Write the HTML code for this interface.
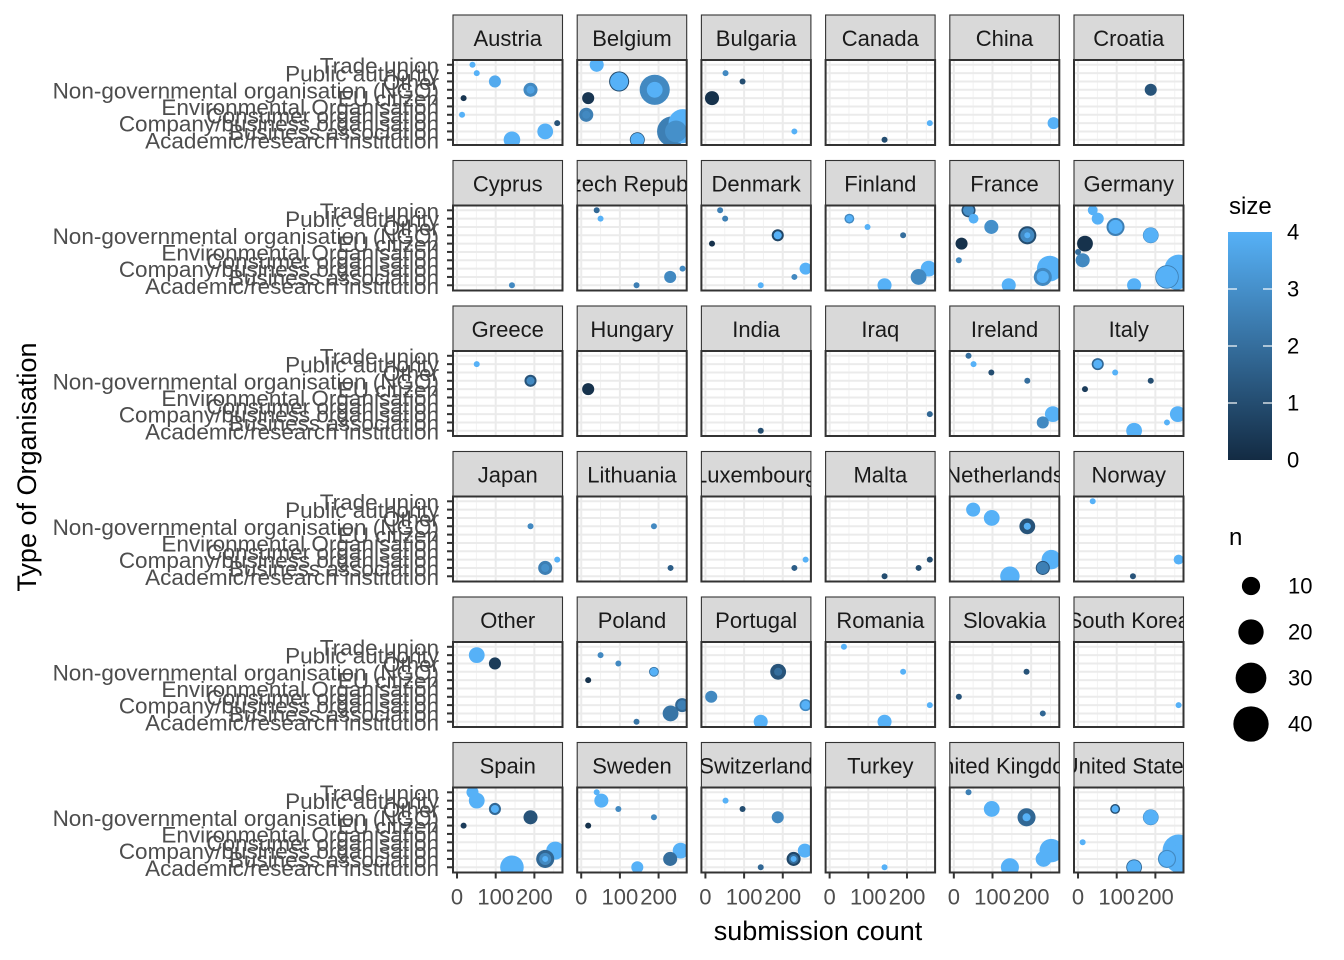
<!DOCTYPE html>
<html><head><meta charset="utf-8">
<style>
html,body{margin:0;padding:0;background:#fff;}
svg{display:block;font-family:"Liberation Sans",Arial,sans-serif;}
</style></head>
<body>
<svg id="chart" width="1344" height="960" viewBox="0 0 1344 960"></svg>
<script>
const categories = ["Trade union","Public authority","Other","Non-governmental organisation (NGO)","EU citizen","Environmental Organisation","Consumer organisation","Company/business organisation","Business association","Academic/research institution"];
const countries = ["Austria","Belgium","Bulgaria","Canada","China","Croatia","Cyprus","Czech Republic","Denmark","Finland","France","Germany","Greece","Hungary","India","Iraq","Ireland","Italy","Japan","Lithuania","Luxembourg","Malta","Netherlands","Norway","Other","Poland","Portugal","Romania","Slovakia","South Korea","Spain","Sweden","Switzerland","Turkey","United Kingdom","United States"];
const xTicks = [0,100,200];
const xTickLabels = ["0","100","200"];
const colorTicks = [0,1,2,3,4];
const sizeLegend = [10,20,30,40];
// each point: [submission count, category index, n, size(colour)]
const points = [
[[40,0,1,4],[51,1,1,4],[98,2,5,3.8],[190,3,7,2.8],[190,3,2,3.5],[17,4,1,0.3],[13,6,1,4],[259,7,1,1.2],[228,8,9,4],[142,9,10,4]],
[[40,0,7,4],[98,2,15,1],[98,2,12,4],[190,3,35,2.8],[190,3,9,4],[18,4,5,0.3],[13,6,7,2.5],[13,6,2,2.8],[145,9,8,1],[145,9,6.5,4],[235,8,35,2.5],[245,8,18,3],[262,7,30,4],[262,8,21,4]],
[[52,1,1,2.8],[96,2,1,1],[17,4,7,0.2],[230,8,1,4]],
[[259,7,1,4],[142,9,1,1]],
[[258,7,5,4]],
[[188,3,5,1.2]],
[[142,9,1,2.8]],
[[40,0,1,1.8],[50,1,1,4],[143,9,1,2.5],[230,8,5,2.8],[262,7,1,2.8]],
[[38,0,1,2.5],[51,1,1,2.5],[187,3,5,0.8],[187,3,2,4],[17,4,1,0.2],[259,7,5,4],[230,8,1,2.8],[143,9,1,4]],
[[51,1,3.2,2.8],[51,1,1.5,4],[98,2,1,4],[190,3,1,2],[256,7,9,4],[230,8,9,2.8],[142,9,7,4]],
[[38,0,7,1.2],[38,0,4,3],[51,1,3.2,4],[97,2,7,3],[190,3,12,1],[190,3,7,2.8],[190,3,1,4],[20,4,5,0.2],[13,6,1,2.8],[248,7,25,4],[230,8,12,2.8],[230,8,5,4],[142,9,7,4]],
[[38,0,3.2,4],[51,1,5,4],[97,2,12,2.5],[97,2,7,4],[188,3,9,2.5],[188,3,8,4],[18,4,9,0.2],[0,5,1,2],[12,6,7,2.8],[145,9,7,4],[230,8,21,2.5],[230,8,18,4],[255,8,25,4],[260,7,30,4]],
[[51,1,1,4],[190,3,5,1.2],[190,3,2,2.8]],
[[18,4,5,0.2]],
[[143,9,1,1]],
[[259,7,1,1.8]],
[[38,0,1,2],[51,1,1,4],[97,2,1,1],[190,3,1,2],[256,7,9,4],[230,8,5,2.8]],
[[51,1,5,1.8],[51,1,2.5,4],[96,2,1,4],[188,3,1,1],[18,4,1,0.5],[258,7,9,4],[230,8,1,4],[145,9,9,4]],
[[190,3,1,2.8],[259,7,1,4],[228,8,7,2.5],[228,8,2,3]],
[[188,3,1,2.8],[231,8,1,1.5]],
[[259,7,1,4],[230,8,1,1.5]],
[[259,7,1,1],[230,8,1,1],[142,9,1,1]],
[[50,1,7,4],[98,2,9,4],[190,3,9,1.2],[190,3,1.5,4],[252,7,14,4],[230,8,7,1.2],[230,8,5,2.5],[145,9,14,4]],
[[38,0,1,4],[260,7,3.2,4],[142,9,1,1.2]],
[[51,1,9,4],[98,2,5,0.5]],
[[50,1,1,2.8],[96,2,1,2.8],[188,3,3.2,2.2],[188,3,2,4],[18,4,1,0.2],[261,7,7,1.8],[261,7,3.2,2.5],[231,8,9,2.2],[143,9,1,2.2]],
[[188,3,9,1.2],[188,3,2,2],[15,6,5,2.8],[259,7,5,2.8],[259,7,2.5,4],[143,9,7,4]],
[[37,0,1,4],[190,3,1,4],[259,7,1,4],[142,9,7,4]],
[[188,3,1,1.2],[13,6,1,1.2],[230,8,1,1.8]],
[[260,7,1,4]],
[[40,0,5,4],[51,1,9,4],[98,2,5,1.8],[98,2,2,4],[190,3,7,1.2],[17,4,1,0.5],[254,7,12,4],[228,8,12,1.8],[228,8,5,2.8],[228,8,1,4],[142,9,21,4]],
[[40,0,1,4],[52,1,7,4],[96,2,1,2.8],[188,3,1,2.8],[18,4,1,0.2],[257,7,9,4],[230,8,7,2],[145,9,5,4]],
[[52,1,1,4],[96,2,1,1],[187,3,5,2.8],[257,7,7,4],[228,8,7,0.8],[228,8,3.2,2],[228,8,1,4],[143,9,1,1.8]],
[[142,9,1,4]],
[[38,0,1,2.5],[98,2,9,4],[188,3,12,1.8],[188,3,2,4],[252,7,21,4],[232,8,9,4],[145,9,12,4]],
[[96,2,3.2,1],[96,2,1.5,4],[188,3,9,2.5],[188,3,8,4],[12,6,1,4],[145,9,9,1.8],[145,9,7,4],[260,7,40,4],[230,8,12,2.8],[230,8,9,4],[262,8,30,4]]
];

const NS = "http://www.w3.org/2000/svg";
const svg = document.getElementById("chart");
function mk(tag, attrs, parent){
  const e = document.createElementNS(NS, tag);
  for (const k in attrs) e.setAttribute(k, attrs[k]);
  (parent||svg).appendChild(e);
  return e;
}
const PW = 109.5, PH = 85, SH = 45, COLSTEP = 124.2, ROWSTEP = 145.5, X0 = 453, Y0 = 15;
const XMIN = -10.4, XMAX = 272.7;
function xScale(v, left){ return left + (v - XMIN) / (XMAX - XMIN) * PW; }
function yScale(i, top){ return top + 4.8 + i * 8.33; }
function rScale(n){ return 3 + 14 * (Math.sqrt(n) - 1) / (Math.sqrt(45) - 1); }
function colorScale(c){
  const t = Math.max(0, Math.min(1, c / 4));
  const a = [19,43,67], b = [86,177,247];
  return "rgb(" + a.map((v,i)=>Math.round(v + (b[i]-v)*t)).join(",") + ")";
}

const defs = mk("defs", {});
countries.forEach((name, idx) => {
  const col = idx % 6, row = Math.floor(idx / 6);
  const left = X0 + col * COLSTEP, stripTop = Y0 + row * ROWSTEP, top = stripTop + SH;
  const g = mk("g", {});
  
  
  const cp = mk("clipPath", {id: "cp" + idx}, defs);
  mk("rect", {x: left, y: top, width: PW, height: PH}, cp);
  const cs = mk("clipPath", {id: "cs" + idx}, defs);
  mk("rect", {x: left, y: stripTop, width: PW, height: SH}, cs);
  const strip = mk("rect", {x: left, y: stripTop, width: PW, height: SH, fill: "#D9D9D9", stroke: "#333333", "stroke-width": 1.1}, g);
  
  
  const st = mk("text", {x: left + PW/2, y: stripTop + SH/2 + 1, "text-anchor": "middle", "dominant-baseline": "central", "font-size": 22, fill: "#1A1A1A", "clip-path": "url(#cs" + idx + ")"}, g);
  st.textContent = name;
  
  
  mk("rect", {x: left, y: top, width: PW, height: PH, fill: "#FFFFFF"}, g);
  [50,150,250].forEach(v => mk("line", {x1: xScale(v,left), x2: xScale(v,left), y1: top, y2: top+PH, stroke: "#F2F2F2", "stroke-width": 1}, g));
  xTicks.forEach(v => mk("line", {x1: xScale(v,left), x2: xScale(v,left), y1: top, y2: top+PH, stroke: "#EBEBEB", "stroke-width": 2}, g));
  categories.forEach((c,i) => mk("line", {x1: left, x2: left+PW, y1: yScale(i,top), y2: yScale(i,top), stroke: "#EBEBEB", "stroke-width": 2}, g));
  const pg = mk("g", {"clip-path": "url(#cp" + idx + ")"}, g);
  const pts = points[idx].slice().sort((a,b)=>b[2]-a[2]);
  pts.forEach(p => {
    const c = mk("circle", {cx: xScale(p[0],left), cy: yScale(p[1],top), r: rScale(p[2]), fill: colorScale(p[3])}, pg);
    
    
  });
  mk("rect", {x: left, y: top, width: PW, height: PH, fill: "none", stroke: "#333333", "stroke-width": 2}, g);
  if (col === 0) {
    categories.forEach((c,i) => {
      mk("line", {x1: left-6, x2: left, y1: yScale(i,top), y2: yScale(i,top), stroke: "#333333", "stroke-width": 2}, g);
      const t = mk("text", {x: left-14, y: yScale(i,top)+1, "text-anchor": "end", "dominant-baseline": "central", "font-size": 22.5, fill: "#4D4D4D"}, g);
      t.textContent = c;
      
      
    });
  }
  if (row === 5) {
    xTicks.forEach((v,i) => {
      mk("line", {x1: xScale(v,left), x2: xScale(v,left), y1: top+PH, y2: top+PH+6, stroke: "#333333", "stroke-width": 2}, g);
      const t = mk("text", {x: xScale(v,left), y: top+PH+32, "text-anchor": "middle", "font-size": 22, fill: "#4D4D4D"}, g);
      t.textContent = xTickLabels[i];
      
      
    });
  }
});

const xt = mk("text", {x: 818, y: 940, "text-anchor": "middle", "font-size": 27, fill: "#000"});
xt.textContent = "submission count";


const yt = mk("text", {x: 0, y: 0, transform: "translate(36,467) rotate(-90)", "text-anchor": "middle", "font-size": 27, fill: "#000"});
yt.textContent = "Type of Organisation";



const lg = mk("g", {});


const ct = mk("text", {x: 1229, y: 214, "font-size": 24, fill: "#000"}, lg);
ct.textContent = "size";


const grad = mk("linearGradient", {id: "cg", x1: 0, y1: 1, x2: 0, y2: 0}, defs);
mk("stop", {offset: "0", "stop-color": colorScale(0)}, grad);
mk("stop", {offset: "0.5", "stop-color": colorScale(2)}, grad);
mk("stop", {offset: "1", "stop-color": colorScale(4)}, grad);
const CB_TOP = 232, CB_BOT = 460, CB_L = 1228, CB_W = 44;
mk("rect", {x: CB_L, y: CB_TOP, width: CB_W, height: CB_BOT-CB_TOP, fill: "url(#cg)"}, lg);
colorTicks.forEach(v => {
  const y = CB_BOT - v/4*(CB_BOT-CB_TOP);
  if (v>0 && v<4) {
    mk("line", {x1: CB_L, x2: CB_L+9, y1: y, y2: y, stroke: "#fff", "stroke-width": 1.2}, lg);
    mk("line", {x1: CB_L+CB_W-9, x2: CB_L+CB_W, y1: y, y2: y, stroke: "#fff", "stroke-width": 1.2}, lg);
  }
  const t = mk("text", {x: 1287, y: y, "dominant-baseline": "central", "font-size": 22, fill: "#000"}, lg);
  t.textContent = String(v);
  
  
});

const sg = mk("g", {});


const stt = mk("text", {x: 1229, y: 545, "font-size": 24, fill: "#000"}, sg);
stt.textContent = "n";


sizeLegend.forEach((n,i) => {
  const y = 586 + i*46;
  const c = mk("circle", {cx: 1251, cy: y, r: rScale(n)*1.1, fill: "#000"}, sg);
  
  
  const t = mk("text", {x: 1288, y: y, "dominant-baseline": "central", "font-size": 22, fill: "#000"}, sg);
  t.textContent = String(n);
  
  
});
</script>
</body></html>
